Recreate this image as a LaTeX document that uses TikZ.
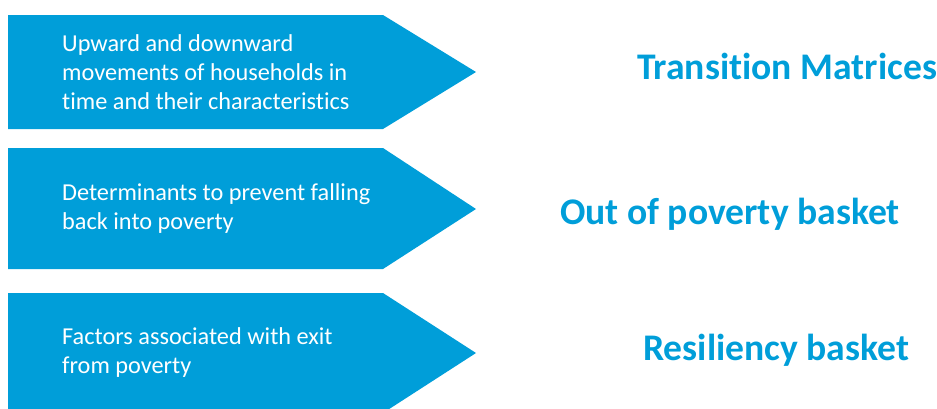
\documentclass[tikz,border=0pt]{standalone}
\usepackage{fontspec}
\setmainfont[Ligatures=NoCommon]{Carlito}
\usetikzlibrary{positioning}
\definecolor{bandblue}{RGB}{0,158,217}
\tikzset{
  band/.style={fill=bandblue},
  bandtext/.style={text=white, align=left, inner sep=0pt, font=\fontsize{24.3}{29}\selectfont},
  heading/.style={text=bandblue, inner sep=0pt, font=\fontsize{37.6}{44}\selectfont\bfseries},
}

\begin{document}
\begin{tikzpicture}[x=1pt,y=-1pt]
        \clip (0,0) rectangle (937,408);
        % arrow bands
        \fill[band] (8,15) -- (383,15) -- (476,72) -- (383,129) -- (8,129) -- cycle;
        \fill[band] (8,148) -- (383,148) -- (476,209) -- (383,269) -- (8,269) -- cycle;
        \fill[band] (8,293) -- (383,293) -- (476,353) -- (383,413) -- (8,413) -- cycle;
        \coordinate (m1) at (8,72);
        \coordinate (m2) at (8,209);
        \coordinate (m3) at (8,353);
        % texts in the bands
        \node[bandtext, right=54pt of m1] (t1) {Upward and downward\\movements of households in\\time and their characteristics};
        \node[bandtext, right=54pt of m2] (t2) {Determinants to prevent falling\\back into poverty};
        \node[bandtext, right=54pt of m3] (t3) {Factors associated with exit\\from poverty};
        % headings
        \node[heading, anchor=base west] (h1) at (637,79) {Transition Matrices};
        \node[heading, anchor=base west] (h2) at (560,224) {Out of poverty basket};
        \node[heading, anchor=base west] (h3) at (643,360) {Resiliency basket};
    \end{tikzpicture}
\end{document}
